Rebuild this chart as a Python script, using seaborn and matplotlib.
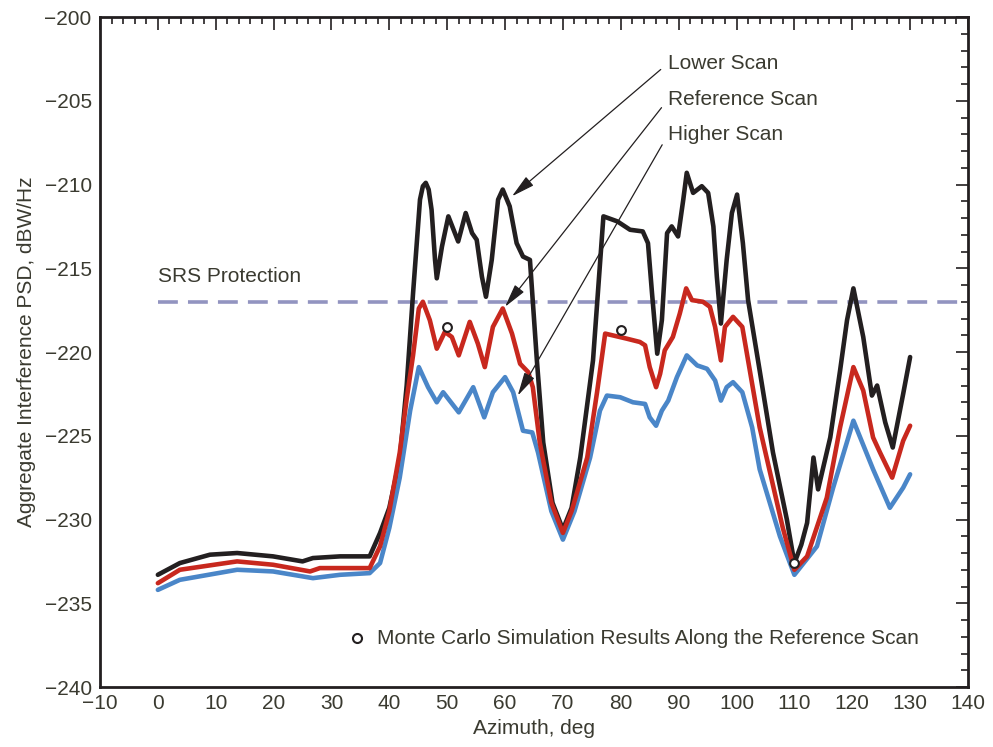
import matplotlib
matplotlib.use("Agg")
import matplotlib.pyplot as plt
from matplotlib.ticker import MultipleLocator
import numpy as np
import pandas as pd
import seaborn as sns

# Aggregate interference PSD (dBW/Hz) versus azimuth (deg) for three scans
lower_az = [0, 3.8, 9, 13.7, 19.9, 25, 26.8, 31.5, 36.6, 38.4, 40, 41.8, 43, 44.1,
            45.3, 45.8, 46.3, 46.8, 47.3, 47.9, 48.2, 49.1, 50.2, 51.9, 53.2, 54.3,
            55.1, 56, 56.7, 57.7, 58.8, 59.6, 60.8, 62, 63.1, 64.3, 65.5, 66.6, 68.2,
            70, 71.5, 73, 75.2, 77, 79.4, 81.6, 83.8, 84.7, 85.4, 86.3, 87.1, 88, 88.8,
            89.9, 90.8, 91.4, 92.5, 94, 95.1, 96, 96.6, 97.3, 98.3, 99.2, 100.1, 101.1,
            102, 104, 106.3, 108.7, 110, 111.2, 112.2, 113.3, 114.1, 116.2, 117.9,
            119.1, 120.2, 121.9, 123.4, 124.3, 125.7, 127, 128.8, 130]
lower_psd = [-233.3, -232.6, -232.1, -232.0, -232.2, -232.5, -232.3, -232.2, -232.2,
             -230.8, -229.3, -226.4, -222.0, -216.5, -210.9, -210.1, -209.9, -210.3,
             -211.5, -214.5, -215.6, -213.7, -211.9, -213.4, -211.7, -212.9, -213.3,
             -215.5, -216.7, -214.5, -210.9, -210.3, -211.3, -213.5, -214.3, -214.5,
             -220.5, -225.4, -229.0, -230.6, -229.3, -226.3, -220.5, -211.9, -212.2,
             -212.7, -212.8, -213.5, -216.5, -220.1, -218.1, -212.9, -212.5, -213.1,
             -210.9, -209.3, -210.5, -210.1, -210.5, -212.5, -215.5, -218.3, -214.5,
             -211.7, -210.6, -213.5, -216.9, -221.1, -226.0, -230.0, -232.6, -231.5,
             -230.2, -226.3, -228.2, -225.1, -221.1, -218.1, -216.2, -219.1, -222.6,
             -222.0, -224.2, -225.7, -222.5, -220.3]

ref_az = [0, 3.8, 13.7, 19.9, 26.3, 28, 36.6, 38.4, 40, 41.8, 43, 44.1, 45.1, 45.8,
          47, 48.2, 49.6, 50.8, 52, 53.9, 55.3, 56.5, 57.9, 59.6, 61.2, 62.6, 64,
          64.8, 66, 68, 70, 71.5, 74.2, 75.9, 77.3, 81, 83.3, 84.2, 85, 86.1, 86.8,
          87.6, 89, 90.2, 91.3, 92.3, 94.2, 95.4, 96.3, 97.3, 98, 99.4, 101, 102,
          104, 106, 108, 110, 112.2, 115.6, 117.9, 120.2, 121.9, 123.6, 124.8, 126.9,
          128.8, 130]
ref_psd = [-233.8, -233.0, -232.5, -232.7, -233.1, -232.9, -232.9, -231.6, -229.5,
           -226.0, -222.8, -220.2, -217.4, -217.0, -218.1, -219.8, -218.8, -219.1,
           -220.2, -218.2, -219.5, -220.9, -218.5, -217.4, -218.9, -220.7, -221.2,
           -222.1, -225.4, -229.0, -230.8, -229.5, -226.3, -222.4, -218.9, -219.2,
           -219.4, -219.6, -220.9, -222.1, -221.3, -219.9, -219.1, -217.7, -216.2,
           -216.9, -217.0, -217.3, -218.5, -220.5, -218.5, -217.9, -218.5, -220.5,
           -224.5, -227.5, -230.5, -233.0, -232.2, -228.7, -224.5, -220.9, -222.3,
           -225.1, -226.0, -227.5, -225.3, -224.4]

higher_az = [0, 3.8, 13.7, 19.9, 26.8, 31.5, 36.6, 38.4, 40, 41.8, 43.6, 45.1, 46.7,
             48.2, 49.3, 52, 54.5, 56.4, 57.9, 60, 61.4, 63.1, 64.7, 65.7, 68, 70, 72,
             74.7, 76.4, 77.6, 79.9, 82.1, 84.2, 85, 86.1, 87.1, 88.2, 89.7, 91.4,
             93.2, 94.9, 96.3, 97.3, 98.3, 99.4, 101, 102.7, 104, 107.5, 110, 113.9,
             116.7, 120.2, 123.6, 126.5, 128.8, 130]
higher_psd = [-234.2, -233.6, -233.0, -233.1, -233.5, -233.3, -233.2, -232.6, -230.5,
              -227.5, -223.5, -220.9, -222.1, -223.0, -222.4, -223.6, -222.1, -223.9,
              -222.4, -221.5, -222.4, -224.7, -224.8, -226.0, -229.5, -231.2, -229.5,
              -226.3, -223.5, -222.6, -222.7, -223.0, -223.1, -223.9, -224.4, -223.5,
              -222.9, -221.5, -220.2, -220.8, -221.0, -221.7, -222.9, -222.1, -221.8,
              -222.4, -224.5, -227.0, -231.0, -233.3, -231.6, -228.1, -224.1, -227.0,
              -229.3, -228.1, -227.3]

# Monte Carlo results along the reference scan
mc_az = [50, 80, 110]
mc_psd = [-218.5, -218.7, -232.6]

srs_protection = -217.0

scan_names = ["Lower Scan", "Higher Scan", "Reference Scan"]
scan_colors = {"Lower Scan": "#231f20", "Reference Scan": "#c8281e",
               "Higher Scan": "#4a86c8"}

frames = []
for name, az, psd in [("Lower Scan", lower_az, lower_psd),
                      ("Higher Scan", higher_az, higher_psd),
                      ("Reference Scan", ref_az, ref_psd)]:
    frames.append(pd.DataFrame({"az": az, "psd": psd, "scan": name}))
df = pd.concat(frames, ignore_index=True)

sns.set_style("white")
text_color = "#3a3a30"
plt.rcParams["font.family"] = ["Liberation Sans", "DejaVu Sans"]
plt.rcParams["text.color"] = text_color
plt.rcParams["axes.labelcolor"] = text_color

fig = plt.figure(figsize=(9.93, 7.47), dpi=100)
ax = fig.add_axes([0.1007, 0.0803, 0.8741, 0.8969])

# protection level
ax.plot([0, 140], [srs_protection, srs_protection], color="#9294c0", lw=2.6,
        dashes=(5.5, 2.8), zorder=1)

sns.lineplot(data=df, x="az", y="psd", hue="scan", hue_order=scan_names,
             palette=scan_colors, estimator=None, sort=False, lw=3.3,
             legend=False, ax=ax, zorder=2)
for line in ax.lines:
    line.set_solid_joinstyle("round")
    line.set_solid_capstyle("round")

sns.scatterplot(x=mc_az, y=mc_psd, marker="o", s=40, facecolor="white",
                edgecolor="#231f20", linewidth=1.5, ax=ax, zorder=5)

ax.set_xlim(-10, 140)
ax.set_ylim(-240, -200)
ax.xaxis.set_major_locator(MultipleLocator(10))
ax.xaxis.set_minor_locator(MultipleLocator(2))
ax.yaxis.set_major_locator(MultipleLocator(5))
ax.yaxis.set_minor_locator(MultipleLocator(1))
ax.tick_params(which="both", direction="in", top=True, right=True,
               labelsize=15, width=1.2, colors="#231f20", labelcolor=text_color)
ax.tick_params(which="major", length=9)
ax.tick_params(which="minor", length=5)
ax.tick_params(axis="x", which="major", pad=5)
ax.tick_params(axis="y", which="major", pad=6)
for sp in ax.spines.values():
    sp.set_linewidth(2.0)
    sp.set_color("#231f20")

ax.set_xlabel("Azimuth, deg", fontsize=15, labelpad=4)
ax.set_ylabel("Aggregate Interference PSD, dBW/Hz", fontsize=15, labelpad=6)

ax.text(0, -215.5, "SRS Protection", fontsize=15, va="center", ha="left")

arrow_kw = dict(arrowstyle="-|>,head_length=0.9,head_width=0.22", color="#231f20",
                lw=0.9, mutation_scale=16, shrinkA=4, shrinkB=0, relpos=(0, 0.5))
ax.annotate("Lower Scan", xy=(61.2, -210.7), xytext=(88.2, -202.75),
            fontsize=15, va="center", ha="left", arrowprops=arrow_kw)
ax.annotate("Reference Scan", xy=(60.0, -217.3), xytext=(88.2, -204.9),
            fontsize=15, va="center", ha="left", arrowprops=arrow_kw)
ax.annotate("Higher Scan", xy=(62.2, -222.6), xytext=(88.2, -207.0),
            fontsize=15, va="center", ha="left", arrowprops=arrow_kw)

ax.plot([34.4], [-237.1], marker="o", ms=6.5, mfc="white", mec="#231f20", mew=1.5,
        ls="none")
ax.text(37.8, -237.1, "Monte Carlo Simulation Results Along the Reference Scan",
        fontsize=15, va="center", ha="left")

fig.savefig("out.png", dpi=100)
